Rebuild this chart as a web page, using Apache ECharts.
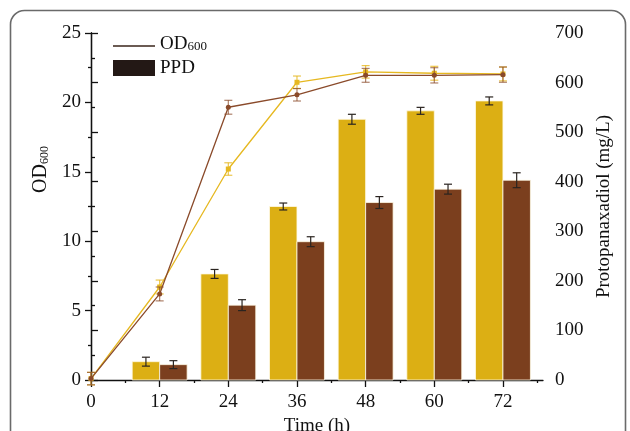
<!DOCTYPE html>
<html>
<head>
<meta charset="utf-8">
<script src="https://cdn.jsdelivr.net/npm/echarts@6/dist/echarts.min.js"></script>
<style>
  html, body { margin: 0; padding: 0; background: #fff; }
  #chart { width: 630px; height: 431px; }
</style>
</head>
<body>
<div id="chart"></div>
<script>
// time points (h)
const hours = [0, 12, 24, 36, 48, 60, 72];
const barHours = [12, 24, 36, 48, 60, 72];
const xTicks = [0, 12, 24, 36, 48, 60, 72];
const xMinorTicks = [6, 18, 30, 42, 54, 66, 78];

// OD600 curves (left axis)
const odBrown = [0.1, 6.2, 19.65, 20.55, 21.95, 21.95, 22.0];
const odBrownErr = [0.45, 0.5, 0.5, 0.45, 0.5, 0.55, 0.55];
const odYellow = [0.1, 6.7, 15.2, 21.45, 22.2, 22.1, 22.05];
const odYellowErr = [0.45, 0.5, 0.45, 0.45, 0.45, 0.5, 0.5];

// PPD titres (right axis, mg/L)
const ppdYellow = [37, 214, 350, 526, 543, 563];
const ppdYellowErr = [9, 9, 7, 10, 7, 8];
const ppdBrown = [31, 151, 279, 358, 385, 403];
const ppdBrownErr = [8, 11, 10, 12, 10, 15];

const YELLOW = '#dcaf14';
const BROWN = '#7b3f1e';
const LINE_BROWN = '#8a4a2a';
const LINE_YELLOW = '#e6b820';
const FONT = 'Liberation Serif';
const BAR_W = 4.8; // in hours

const chart = echarts.init(document.getElementById('chart'));

const pairs = (xs, ys) => xs.map((x, i) => [x, ys[i]]);
const triples = (xs, ys, es) => xs.map((x, i) => [x, ys[i], es[i]]);

function barItem(side, color) {
  return function (params, api) {
    const x = api.value(0), v = api.value(1);
    const top = api.coord([x, v]);
    const base = api.coord([x, 0]);
    const w = api.size([BAR_W, 0])[0];
    return {
      type: 'rect',
      shape: { x: side < 0 ? top[0] - w : top[0], y: top[1], width: w, height: base[1] - top[1] },
      style: { fill: color, stroke: 'rgba(255,250,230,0.8)', lineWidth: 1 }
    };
  };
}

function errItem(side, color, cap) {
  return function (params, api) {
    const x = api.value(0), v = api.value(1), e = api.value(2);
    const hi = api.coord([x, v + e]);
    const lo = api.coord([x, v - e]);
    let cx = hi[0];
    if (side !== 0) cx += side * api.size([BAR_W, 0])[0] / 2;
    const st = { stroke: color, lineWidth: 1.2 };
    return {
      type: 'group',
      children: [
        { type: 'line', shape: { x1: cx, y1: hi[1], x2: cx, y2: lo[1] }, style: st },
        { type: 'line', shape: { x1: cx - cap, y1: hi[1], x2: cx + cap, y2: hi[1] }, style: st },
        { type: 'line', shape: { x1: cx - cap, y1: lo[1], x2: cx + cap, y2: lo[1] }, style: st }
      ]
    };
  };
}

const axisText = { fontFamily: FONT, fontSize: 19, color: '#111' };
const nameText = { fontFamily: FONT, fontSize: 19, color: '#111' };
const axisLine = { show: true, lineStyle: { color: '#111', width: 1.3 } };

chart.setOption({
  animation: false,
  grid: { left: 91, right: 87, top: 33, bottom: 51, outerBoundsMode: 'none', containLabel: false },
  xAxis: [
    {
      type: 'value', min: 0, max: 79, interval: 12,
      name: 'Time (h)', nameLocation: 'middle', nameGap: 30,
      nameTextStyle: nameText,
      axisLine: axisLine,
      axisTick: { show: true, length: 7, customValues: xTicks, lineStyle: { color: '#111', width: 1.3 } },
      axisLabel: Object.assign({ margin: 13, customValues: xTicks }, axisText),
      splitLine: { show: false }
    },
    {
      type: 'value', min: 0, max: 79, position: 'bottom',
      axisLine: { show: false },
      axisTick: { show: true, length: 3, customValues: xMinorTicks, lineStyle: { color: '#111', width: 1.3 } },
      axisLabel: { show: false },
      splitLine: { show: false }
    }
  ],
  yAxis: [
    {
      type: 'value', min: 0, max: 25, interval: 5,
      name: '{a|OD}{b|600}', nameLocation: 'middle', nameRotate: 90, nameGap: 36,
      nameTextStyle: {
        padding: [0, 0, 0, 74],
        rich: {
          a: { fontFamily: FONT, fontSize: 20, color: '#111' },
          b: { fontFamily: FONT, fontSize: 12, color: '#111', verticalAlign: 'bottom', padding: [9, 0, 0, 0] }
        }
      },
      axisLine: axisLine,
      axisTick: { show: true, length: 6, lineStyle: { color: '#111', width: 1.3 } },
      minorTick: { show: true, splitNumber: 2, length: 3, lineStyle: { color: '#111', width: 1.3 } },
      axisLabel: Object.assign({ margin: 10 }, axisText),
      splitLine: { show: false }
    },
    {
      type: 'value', min: 0, max: 700, interval: 100, position: 'right',
      name: 'Protopanaxadiol (mg/L)', nameLocation: 'middle', nameRotate: 90, nameGap: 52,
      nameTextStyle: nameText,
      axisLine: axisLine,
      axisTick: { show: true, length: 7, lineStyle: { color: '#111', width: 1.3 } },
      minorTick: { show: true, splitNumber: 2, length: 4, lineStyle: { color: '#111', width: 1.3 } },
      axisLabel: Object.assign({ margin: 12 }, axisText),
      splitLine: { show: false }
    }
  ],
  series: [
    { type: 'custom', name: 'PPD yellow', yAxisIndex: 1, data: pairs(barHours, ppdYellow), renderItem: barItem(-1, YELLOW), z: 2 },
    { type: 'custom', name: 'PPD brown', yAxisIndex: 1, data: pairs(barHours, ppdBrown), renderItem: barItem(1, BROWN), z: 2 },
    { type: 'custom', yAxisIndex: 1, data: triples(barHours, ppdYellow, ppdYellowErr), renderItem: errItem(-1, '#2a2420', 4), z: 3 },
    { type: 'custom', yAxisIndex: 1, data: triples(barHours, ppdBrown, ppdBrownErr), renderItem: errItem(1, '#2a2420', 4), z: 3 },
    {
      type: 'line', name: 'OD yellow', data: pairs(hours, odYellow), clip: false,
      symbol: 'rect', symbolSize: 5,
      lineStyle: { color: LINE_YELLOW, width: 1.3 }, itemStyle: { color: LINE_YELLOW }, z: 4
    },
    {
      type: 'line', name: 'OD brown', data: pairs(hours, odBrown), clip: false,
      symbol: 'circle', symbolSize: 5,
      lineStyle: { color: LINE_BROWN, width: 1.3 }, itemStyle: { color: LINE_BROWN }, z: 5
    },
    { type: 'custom', data: triples(hours, odYellow, odYellowErr), renderItem: errItem(0, 'rgba(230,184,32,0.8)', 4), z: 4 },
    { type: 'custom', data: triples(hours, odBrown, odBrownErr), renderItem: errItem(0, 'rgba(138,74,42,0.7)', 4), z: 5 }
  ],
  graphic: [
    {
      type: 'rect', silent: true,
      shape: { x: 10.5, y: 10.5, width: 615, height: 450, r: 14 },
      style: { fill: 'none', stroke: '#6a6a6a', lineWidth: 1.6 }
    },
    { type: 'line', shape: { x1: 113, y1: 46, x2: 155, y2: 46 }, style: { stroke: '#3a241a', lineWidth: 1.3 } },
    { type: 'rect', shape: { x: 113, y: 60, width: 42, height: 16 }, style: { fill: '#231815' } },
    {
      type: 'text', left: 160, top: 35,
      style: {
        text: '{a|OD}{b|600}',
        rich: {
          a: { fontFamily: FONT, fontSize: 19, fill: '#111' },
          b: { fontFamily: FONT, fontSize: 13, fill: '#111', padding: [5, 0, 0, 0] }
        }
      }
    },
    { type: 'text', left: 160, top: 59, style: { text: 'PPD', fontFamily: FONT, fontSize: 19, fill: '#111' } }
  ]
});
</script>
</body>
</html>
